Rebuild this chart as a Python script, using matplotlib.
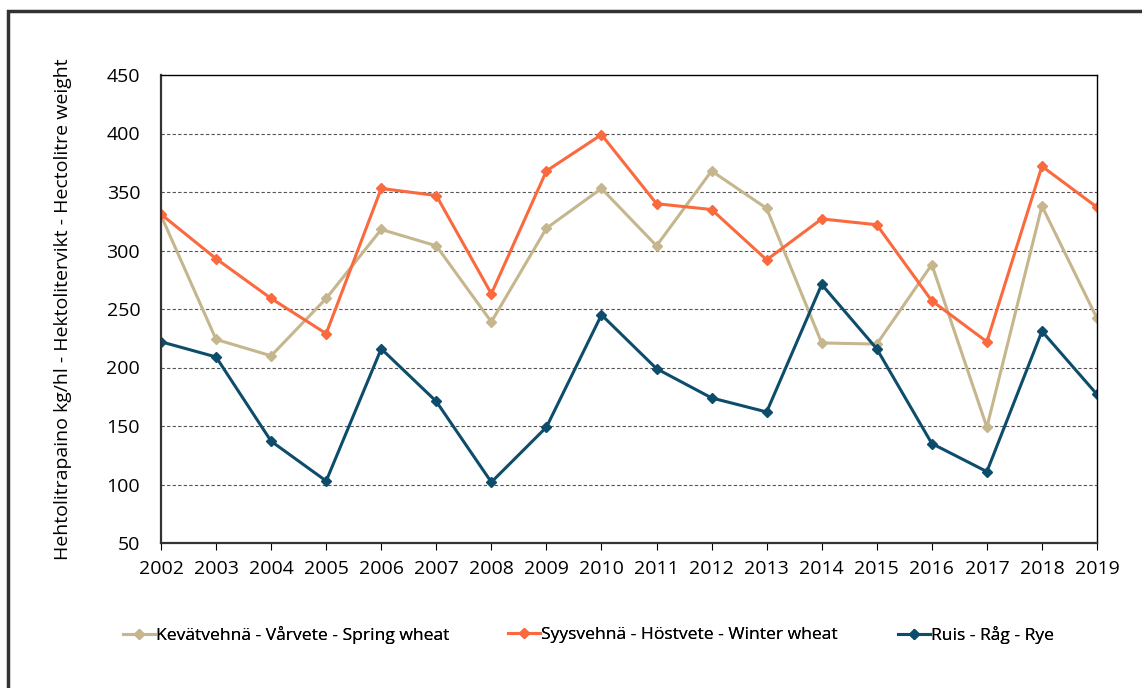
import matplotlib
matplotlib.use("Agg")
import matplotlib.pyplot as plt
from matplotlib.patches import Rectangle

years = [str(y) for y in range(2002, 2020)]
spring_wheat = [330, 224, 210, 259, 318, 304, 239, 319, 353, 304, 368, 336, 221, 220, 288, 149, 338, 242]
winter_wheat = [331, 293, 259, 229, 353, 347, 263, 368, 399, 340, 335, 292, 327, 322, 257, 222, 372, 337]
rye = [222, 209, 137, 103, 216, 171, 102, 149, 245, 199, 174, 162, 271, 216, 135, 111, 231, 177]

labels = ["Kevätvehnä - Vårvete - Spring wheat",
          "Syysvehnä - Höstvete - Winter wheat",
          "Ruis - Råg - Rye"]
colors = ["#C6B68D", "#FA6A3E", "#0D4D6B"]
ylabel = "Hehtolitrapaino kg/hl - Hektolitervikt - Hectolitre weight"

plt.rcParams['font.family'] = ['Open Sans', 'DejaVu Sans']

W, H = 1142, 688
fig = plt.figure(figsize=(W/100, H/100), dpi=100)
ax = fig.add_axes([161/W, 1-543/H, (1097-161)/W, (543-75)/H])

x = list(range(len(years)))
handles = []
for vals, lab, col in zip([spring_wheat, winter_wheat, rye], labels, colors):
    h, = ax.plot(x, vals, color=col, lw=2.2, marker='D', ms=5.5, label=lab)
    handles.append(h)

ax.set_xlim(0, len(years)-1)
ax.set_ylim(50, 450)
ax.set_yticks(range(50, 451, 50))
ax.set_xticks(x)
ax.set_xticklabels(years)
ax.tick_params(axis='y', length=0, labelsize=14, pad=15)
ax.tick_params(axis='x', length=5, labelsize=14, pad=7, direction='out')
for v in range(100, 401, 50):
    ax.axhline(v, color='#555555', lw=0.8, ls=(0, (3, 2)), zorder=0)
for s in ['left', 'bottom']:
    ax.spines[s].set_linewidth(1.6)
    ax.spines[s].set_color('#333333')
for s in ['top', 'right']:
    ax.spines[s].set_linewidth(1.0)
    ax.spines[s].set_color('#000000')
ax.set_ylabel(ylabel, fontsize=14)
ax.yaxis.set_label_coords((72-161)/(1097-161), 0.5)

leg_x = [123, 508, 898]
for h, xpos in zip(handles, leg_x):
    lg = fig.legend(handles=[h], loc='center left', bbox_to_anchor=(xpos/W, 1-635/H),
                    frameon=False, fontsize=12.6, handlelength=1.8, handletextpad=0.1,
                    borderaxespad=0, borderpad=0, markerscale=0.85)
    fig.add_artist(lg)

fig.patches.append(Rectangle((8/W, -0.1), 1.2, 1-11/H+0.1, transform=fig.transFigure,
                             fill=False, edgecolor='#333333', lw=2.5))

fig.savefig("out.png", dpi=100)
